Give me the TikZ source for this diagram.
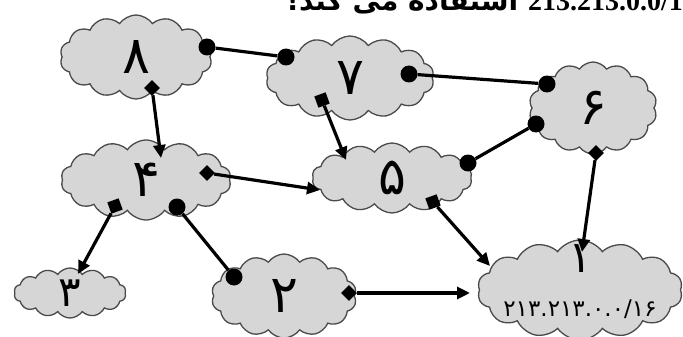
\documentclass[tikz,border=0pt]{standalone}
\usepackage{fontspec}
\usetikzlibrary{shapes.symbols,shapes.geometric,arrows.meta}
\TeXXeTstate=1
\newfontfamily\pd{DejaVu Sans}
\newfontfamily\arabicfont[Script=Arabic]{DejaVu Sans}
\newfontfamily\serifnum{Liberation Serif}
\definecolor{cloudfill}{HTML}{D6D6D6}
\definecolor{cloudline}{HTML}{4A4A4A}
\tikzset{
  cloudy/.style={cloud, cloud puffs=14, cloud puff arc=110, draw=cloudline, line width=1.3pt, fill=cloudfill, inner sep=0pt, font=\pd\fontsize{52}{52}\selectfont},
  dotm/.style={circle, fill=black, inner sep=0pt, minimum size=17pt},
  dmdm/.style={diamond, fill=black, inner sep=0pt, minimum size=16pt},
  sqm/.style={rectangle, fill=black, inner sep=0pt, minimum size=12pt, rotate=20},
  link/.style={line width=3.2pt},
  arr/.style={line width=3.2pt, -{Triangle[width=12pt,length=13pt]}}
}
\begin{document}
\begin{tikzpicture}[x=1pt,y=-1pt]
\useasboundingbox (0,0) rectangle (683,337);
\clip (0,0) rectangle (683,337);
\fill[white] (0,0) rectangle (683,337);
% title (cut off)
\node[anchor=base east, inner sep=0pt, font=\arabicfont\bfseries\fontsize{28}{28}\selectfont] (title) at (697,11) {\beginR\beginL{\serifnum\bfseries\fontsize{28}{28}\selectfont 213.213.0.0/16}\endL{} استفاده می کند!\endR};
% clouds
\node[cloudy, minimum width=152pt, minimum height=84pt] (c8) at (136,57) {۸};
\node[cloudy, minimum width=168pt, minimum height=84pt] (c7) at (350,78) {۷};
\node[cloudy, minimum width=128pt, minimum height=92pt] (c6) at (593,108) {۶};
\node[cloudy, minimum width=170pt, minimum height=80pt] (c4) at (146,180) {۴};
\node[cloudy, minimum width=160pt, minimum height=70pt] (c5) at (392,178) {۵};
\node[cloudy, minimum width=112pt, minimum height=50pt, font=\pd\fontsize{42}{42}\selectfont] (c3) at (70,293) {۳};
\node[cloudy, minimum width=145pt, minimum height=84pt] (c2) at (284,296) {۲};
\node[cloudy, minimum width=205pt, minimum height=100pt] (c1) at (580,290) {\smash{\makebox[0pt]{\begin{tabular}{@{}c@{}}\fontsize{44}{36}\selectfont ۱\\[-8pt]\fontsize{23}{23}\selectfont ۲۱۳.۲۱۳.۰.۰/۱۶\end{tabular}}}};
% markers
\node[dotm] (d8r) at (207,47) {};
\node[dotm] (d7l) at (286,57) {};
\node[dotm] (d7r) at (409,74) {};
\node[dotm] (d6a) at (547,84) {};
\node[dotm] (d6b) at (536,124) {};
\node[dotm] (d5r) at (468,163) {};
\node[dotm] (d4b) at (177,207) {};
\node[dotm] (d2l) at (234,277) {};
\node[dmdm] (m8) at (152,88) {};
\node[sqm] (m7) at (322,100) {};
\node[dmdm] (m4r) at (207,173) {};
\node[sqm] (m4l) at (115,206) {};
\node[sqm] (m5) at (433,202) {};
\node[dmdm] (m6) at (596,153) {};
\node[dmdm] (m2) at (349,293) {};
% arrow tips
\coordinate (t4) at (161,158);
\coordinate (t5a) at (346,160);
\coordinate (t5b) at (320,190);
\coordinate (t3) at (78,274);
\coordinate (t1a) at (490,266);
\coordinate (t1b) at (582,252);
\coordinate (t1c) at (470,293);
% links
\draw[link] (d8r) -- (d7l);
\draw[link] (d7r) -- (d6a);
\draw[link] (d6b) -- (d5r);
\draw[link] (d4b) -- (d2l);
\draw[arr] (m8) -- (t4);
\draw[arr] (m7) -- (t5a);
\draw[arr] (m4r) -- (t5b);
\draw[arr] (m4l) -- (t3);
\draw[arr] (m5) -- (t1a);
\draw[arr] (m6) -- (t1b);
\draw[arr] (m2) -- (t1c);
\end{tikzpicture}
\end{document}
